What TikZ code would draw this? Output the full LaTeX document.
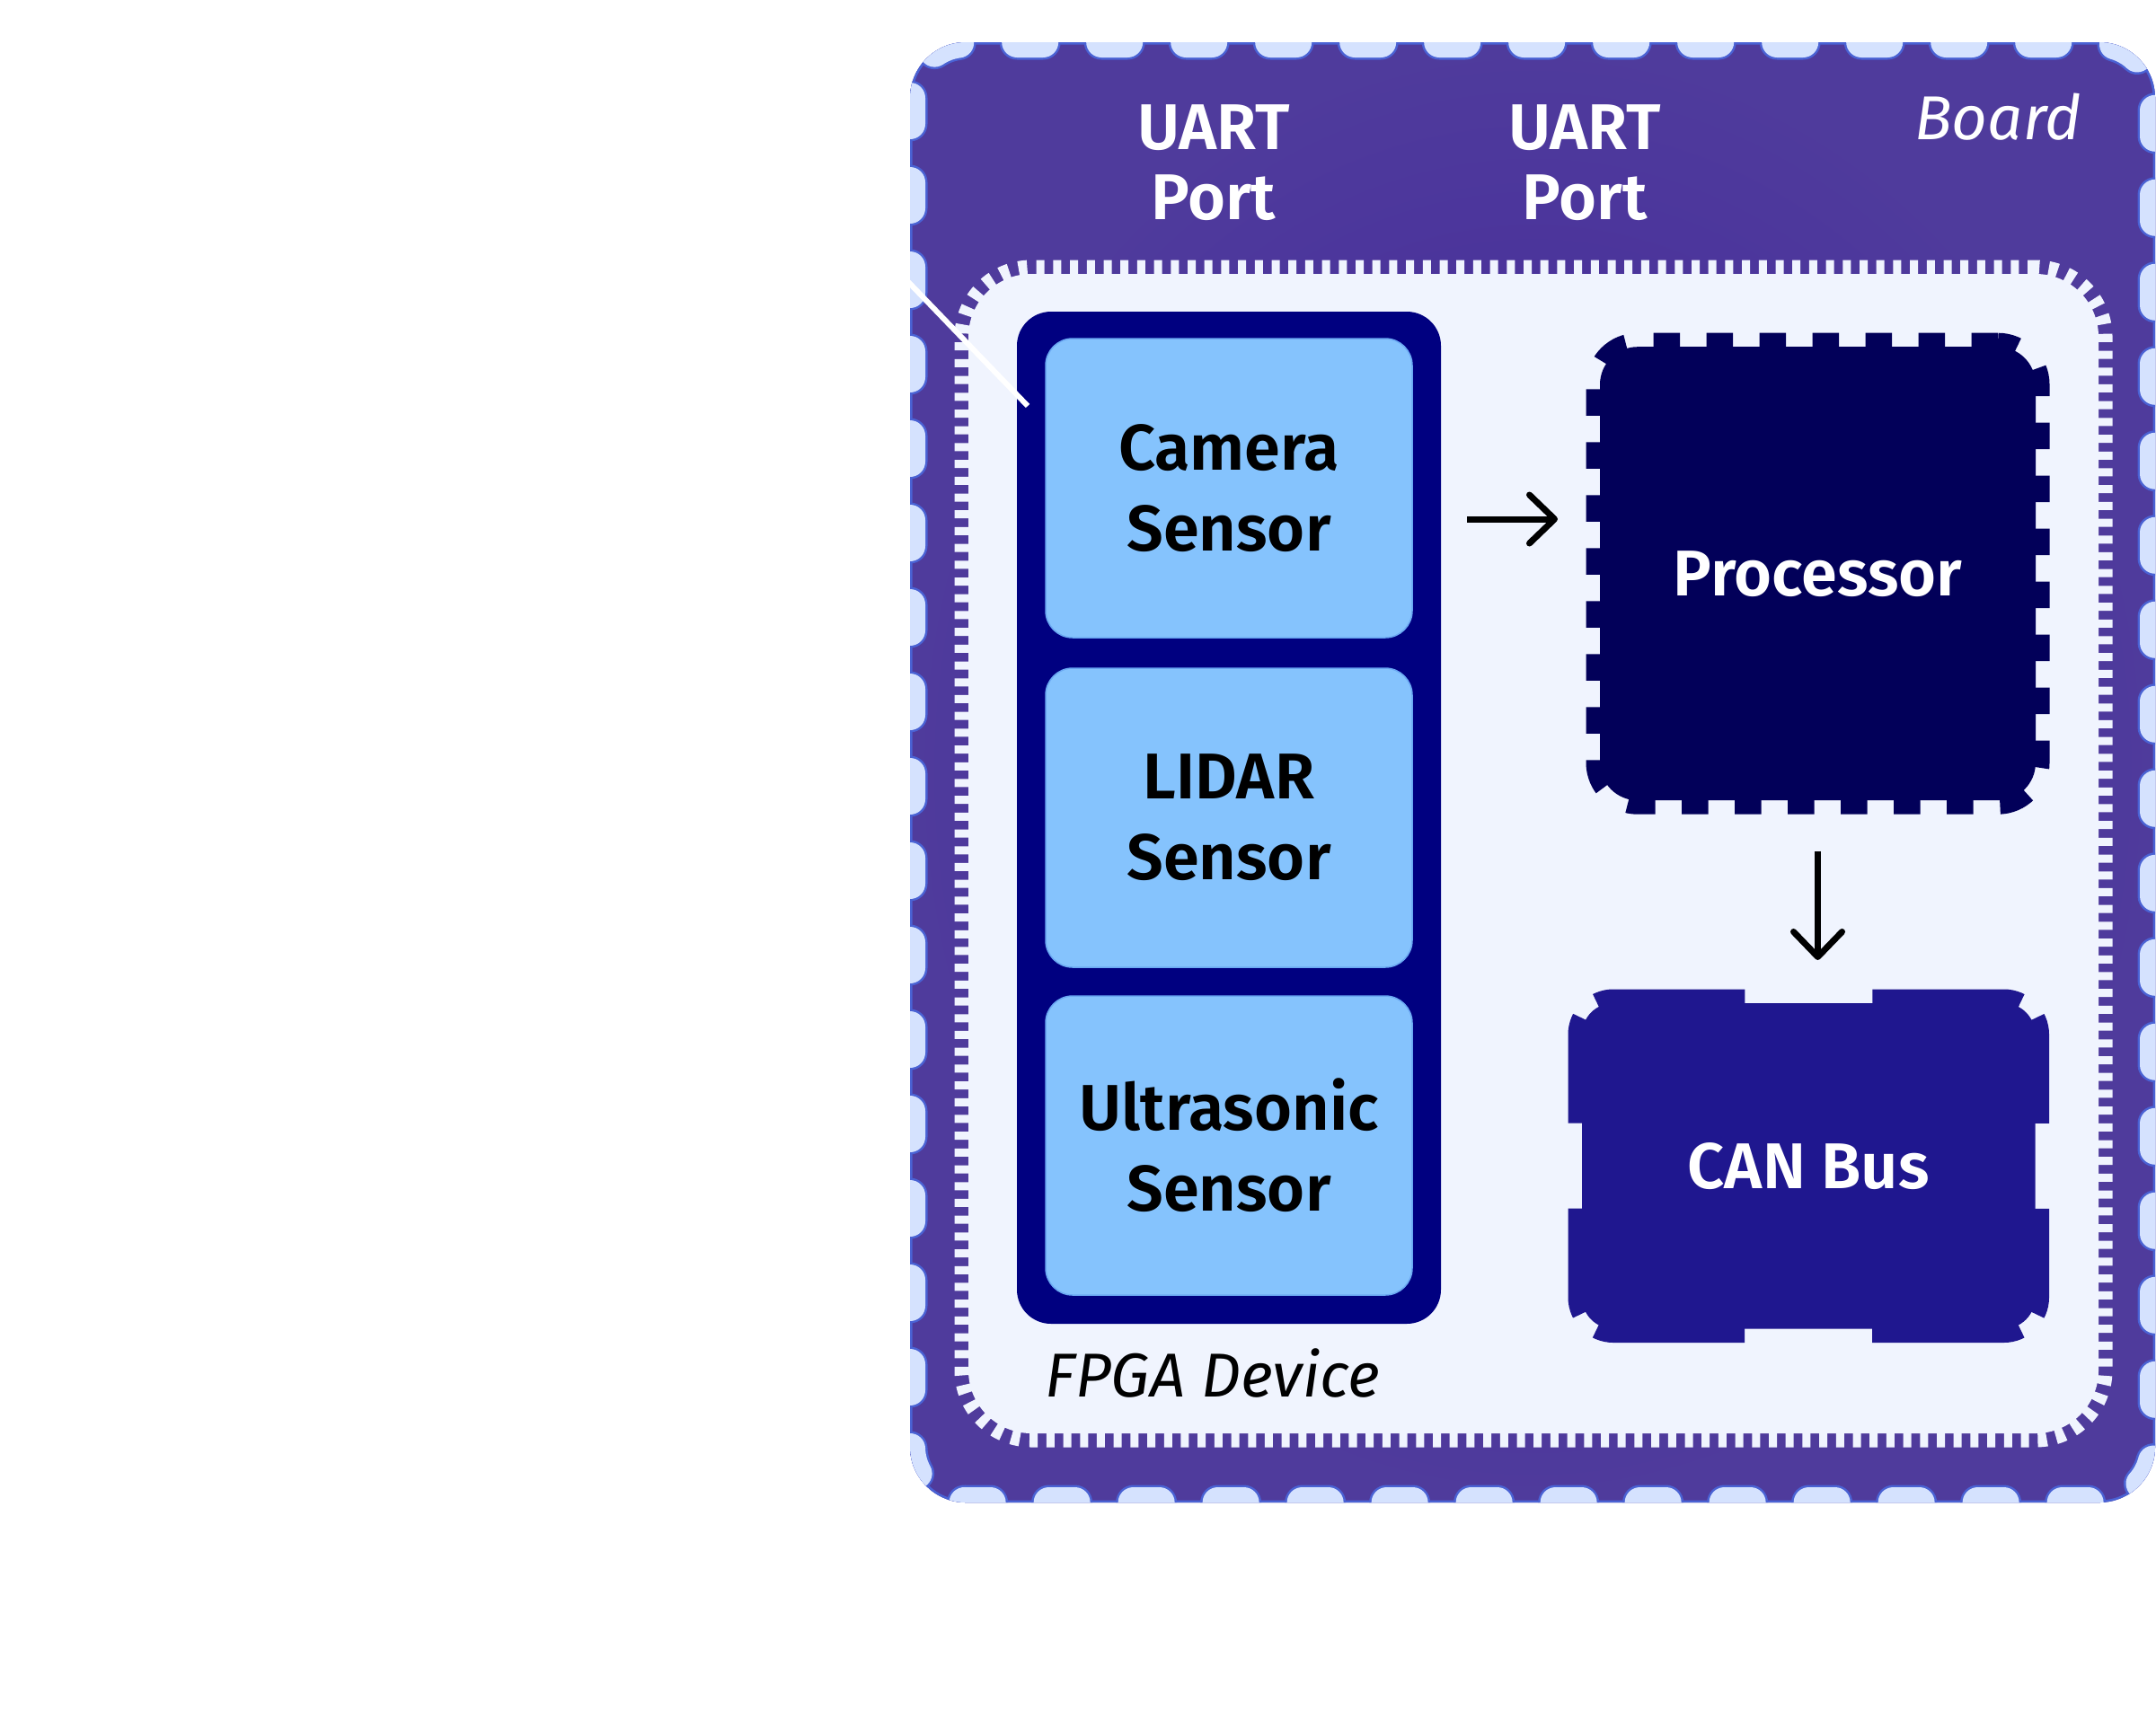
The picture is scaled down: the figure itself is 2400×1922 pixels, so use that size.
\documentclass[tikz,border=0pt]{standalone}
\usepackage{fontspec}
\setmainfont{Fira Sans}[BoldFont={Fira Sans SemiBold}]
\usetikzlibrary{positioning, arrows.meta}
\definecolor{boardcore}{HTML}{42259A}
\definecolor{boardrim}{HTML}{4F3B9C}
\definecolor{tabfill}{HTML}{D5E2FE}
\definecolor{tabline}{HTML}{4A62D4}
\definecolor{panelfill}{HTML}{F0F4FE}
\definecolor{fpganavy}{HTML}{000080}
\definecolor{sensorblue}{HTML}{85C3FD}
\definecolor{sensorline}{HTML}{6AA8F2}
\definecolor{procnavy}{HTML}{020059}
\definecolor{canblue}{HTML}{1F178F}

\begin{document}
\begin{tikzpicture}[x=1pt, y=-1pt,
    bigfont/.style={font=\fontsize{72}{90}\selectfont\bfseries},
    boardbox/.style={inner sep=0pt, outer sep=0pt, rounded corners=62pt,
      shade, inner color=boardcore, outer color=boardrim},
    panelbox/.style={inner sep=0pt, outer sep=0pt, rounded corners=70pt, fill=panelfill,
      draw=panelfill, line width=31pt, dash pattern=on 9pt off 9.7pt},
    chassis/.style={inner sep=0pt, outer sep=0pt, fill=fpganavy, rounded corners=38pt},
    sensorbox/.style={bigfont, align=center, inner sep=0pt, outer sep=0pt,
      minimum width=408pt, minimum height=333pt, fill=sensorblue,
      draw=sensorline, line width=1.5pt, rounded corners=30pt},
    chipbox/.style={bigfont, text=white, inner sep=0pt, outer sep=0pt, fill=procnavy,
      draw=procnavy, line width=31pt, dash pattern=on 29.5pt off 29.5pt, rounded corners=42pt},
    busbox/.style={bigfont, text=white, inner sep=0pt, outer sep=0pt, fill=canblue,
      rounded corners=35pt},
    portlabel/.style={font=\fontsize{72}{78}\selectfont\bfseries, text=white,
      align=center, inner sep=0pt},
    tag/.style={font=\fontsize{69}{84}\selectfont\itshape, inner sep=0pt},
    flow/.style={draw=black, line width=7pt,
      -{Straight Barb[length=28pt, width=54pt, round]}}]

  \useasboundingbox[fill=white] (0,0) rectangle (2400,1922);

  % Board with its light edge tabs
  \node[boardbox, minimum width=1386pt, minimum height=1626pt] (board) at (1706,860) {};
  \begin{scope}
    \clip[rounded corners=62pt] (board.north west) rectangle (board.south east);
    \draw[tabline, line width=5pt, rounded corners=62pt]
      (board.north west) rectangle (board.south east);
    \draw[tabline, line width=39pt, line cap=round, dash pattern=on 29pt off 65pt,
      rounded corners=62pt] (board.north west) rectangle (board.south east);
    \draw[tabfill, line width=34pt, line cap=round, dash pattern=on 29pt off 65pt,
      rounded corners=62pt] (board.north west) rectangle (board.south east);

    \node[portlabel] (uart1) at (1351,181) {UART\\Port};
    \node[portlabel] (uart2) at (1764,181) {UART\\Port};
    \node[tag, text=white, anchor=base east] (boardtag) at (2317,155) {Board};

    % Inner region
    \node[panelbox, minimum width=1258pt, minimum height=1291pt] (panel) at (1707,950.5) {};
    \node[tag, anchor=base] (paneltag) at (1350,1555) {FPGA Device};

    % FPGA with its three sensors
    \node[chassis, minimum width=472pt, minimum height=1127pt] (fpga) at (1368,910.5) {};
    \node[sensorbox, below right=30pt and 32pt of fpga.north west] (camera) {Camera\\Sensor};
    \node[sensorbox, below=34pt of camera] (lidar) {LIDAR\\Sensor};
    \node[sensorbox, below=32pt of lidar] (ultra) {Ultrasonic\\Sensor};

    % Processor and bus
    \node[chipbox, minimum width=485pt, minimum height=505pt] (proc) at (2023.5,638.7) {Processor};
    \node[busbox, minimum width=504.5pt, minimum height=362.5pt] (can) at (2013.25,1298.25) {CAN Bus};
    \draw[canblue, line width=31pt, rounded corners=35pt,
      dash pattern=on 0pt off 71pt on 163.25pt off 21pt on 115.75pt off 95pt
        on 115.75pt off 21pt on 163.25pt off 142pt on 163.25pt off 21pt
        on 115.75pt off 95pt on 115.75pt off 21pt on 163.25pt off 71pt]
      (can.north) -- (can.north east) -- (can.south east)
      -- (can.south west) -- (can.north west) -- (can.north);

    % Connectors
    \coordinate (feed) at ([yshift=-34.5pt]camera.east);
    \draw[flow, shorten <=29pt, shorten >=47pt] (feed -| fpga.east) -- (feed -| proc.west);
    \draw[flow, shorten <=56.5pt, shorten >=48pt] (proc.south) -- (proc.south |- can.north);

    \coordinate (wirein) at (990,292);
    \draw[white, line width=6pt] (wirein) -- ([shift={(12,105)}]fpga.north west);
  \end{scope}
\end{tikzpicture}
\end{document}
